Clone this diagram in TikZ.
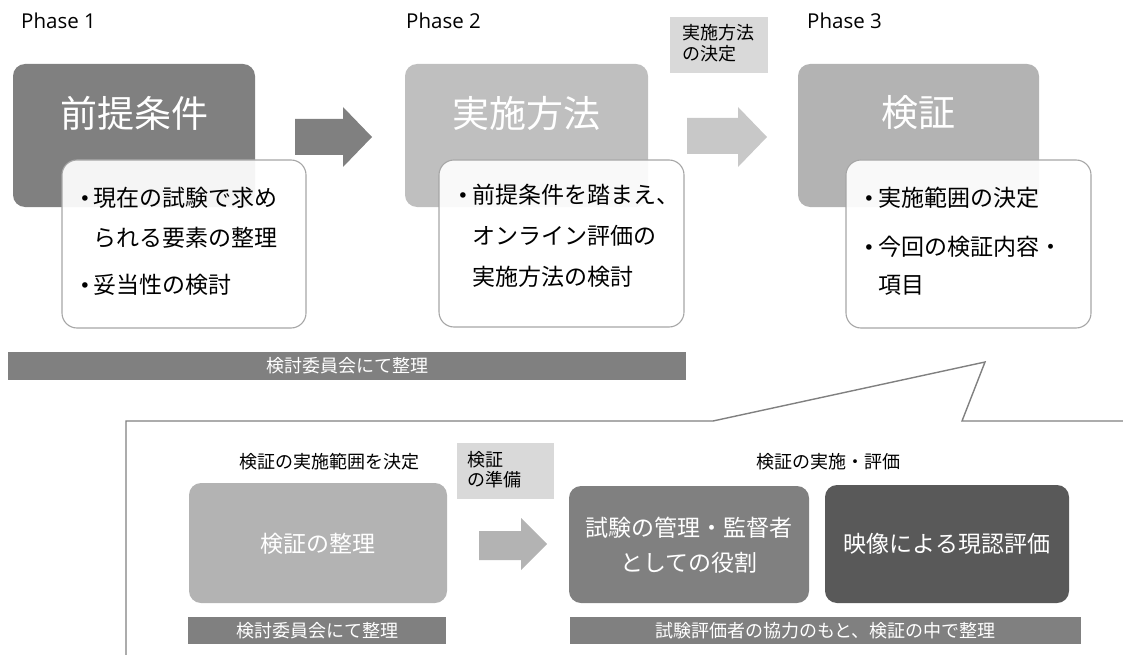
\documentclass[tikz,border=0pt]{standalone}
\usepackage{fontspec}
\setmainfont{Noto Sans CJK JP}
\newfontfamily\phasefont{Open Sans}
\newfontfamily\bulfont{DejaVu Sans}
\definecolor{gdark}{HTML}{808080}
\definecolor{gdarker}{HTML}{595959}
\definecolor{gmid}{HTML}{B3B3B3}
\definecolor{glight}{HTML}{BFBFBF}
\definecolor{garrow}{HTML}{C8C8C8}
\definecolor{glabel}{HTML}{D9D9D9}
\definecolor{gline}{HTML}{808080}
\definecolor{gborder}{HTML}{A6A6A6}
\begin{document}
\begin{tikzpicture}[x=1pt,y=-1pt,
  blk/.style={rounded corners=12pt, inner sep=0pt, outer sep=0pt, draw=none},
  wbox/.style={rounded corners=15pt, inner sep=0pt, outer sep=0pt, draw=gborder, line width=1.1pt, fill=white, fill opacity=0.92},
  sq/.style={inner sep=0pt, outer sep=0pt, draw=none},
  phase/.style={font=\phasefont\fontsize{20.5}{24}\selectfont, anchor=west, inner sep=0pt},
  ttl/.style={font=\fontsize{37}{44}\selectfont, text=white, inner sep=0pt},
  mid/.style={font=\fontsize{23}{35}\selectfont, text=white, inner sep=0pt, align=center},
  btx/.style={font=\fontsize{23}{28}\selectfont, anchor=west, inner sep=0pt},
  bul/.style={font=\bulfont\fontsize{19}{22}\selectfont, inner sep=0pt, yshift=-3pt},
  sml/.style={font=\fontsize{18}{20}\selectfont, inner sep=0pt},
  lab/.style={font=\fontsize{18}{20.5}\selectfont, inner sep=0pt, align=left, anchor=west},
  bartx/.style={font=\fontsize{18}{20}\selectfont, text=white, inner sep=0pt}
]
\useasboundingbox (0,0) rectangle (1123,655);

% ---------- Phase labels ----------
\node[phase] (ph1) at (21,21) {Phase 1};
\node[phase] (ph2) at (406,21) {Phase 2};
\node[phase] (ph3) at (807,21) {Phase 3};

% ---------- Phase 1 ----------
\node[blk, fill=gdark, minimum width=242pt, minimum height=143pt] (p1) at (134,135.5) {};
\node[ttl] (p1t) at (134,113) {前提条件};
\node[wbox, minimum width=244pt, minimum height=168pt] (w1) at (184,244) {};
\node[bul] (b1a) at (85,198) {•};
\node[btx] (t1a) at (93,198) {現在の試験で求め};
\node[btx] (t1b) at (93,238) {られる要素の整理};
\node[bul] (b1b) at (85,285) {•};
\node[btx] (t1c) at (93,285) {妥当性の検討};

% arrow 1
\fill[gdark] (295,119) -- (343,119) -- (343,107) -- (372,137) -- (343,167) -- (343,155) -- (295,155) -- cycle;

% ---------- Phase 2 ----------
\node[blk, fill=glight, minimum width=243pt, minimum height=143pt] (p2) at (526.5,135.5) {};
\node[ttl] (p2t) at (526.5,113) {実施方法};
\node[wbox, minimum width=245pt, minimum height=167pt] (w2) at (561.5,243.5) {};
\node[bul] (b2a) at (463,195) {•};
\node[btx] (t2a) at (472,195) {前提条件を踏まえ、};
\node[btx] (t2b) at (472,236) {オンライン評価の};
\node[btx] (t2c) at (472,277) {実施方法の検討};

\node[sq, fill=glabel, minimum width=98pt, minimum height=56pt] (l1) at (719,45) {};
\node[lab] (l1t) at (682,43) {実施方法\\の決定};

% arrow 2
\fill[garrow] (687,118) -- (738,118) -- (738,107) -- (767,137) -- (738,167) -- (738,154) -- (687,154) -- cycle;

% ---------- Phase 3 ----------
\node[blk, fill=gmid, minimum width=241pt, minimum height=143pt] (p3) at (918.5,135.5) {};
\node[ttl] (p3t) at (918.5,113) {検証};
\node[wbox, minimum width=245pt, minimum height=168pt] (w3) at (968.5,244) {};
\node[bul] (b3a) at (869,198) {•};
\node[btx] (t3a) at (878,198) {実施範囲の決定};
\node[bul] (b3b) at (869,247) {•};
\node[btx] (t3b) at (878,247) {今回の検証内容・};
\node[btx] (t3c) at (878,285) {項目};

% top bar
\node[sq, fill=gdark, minimum width=678pt, minimum height=28pt] (bar1) at (347,366) {};
\node[bartx] (bar1t) at (347,366) {検討委員会にて整理};

% ---------- callout ----------
\draw[gline, line width=1.4pt, line join=miter]
  (126,655) -- (126,421) -- (713,421) -- (985,362) -- (962,421) -- (1123,421);

% ---------- bottom ----------
\node[sml] (h1) at (329,462) {検証の実施範囲を決定};
\node[blk, fill=gmid, minimum width=258pt, minimum height=120pt] (q1) at (318,543) {};
\node[mid] (q1t) at (318,544) {検証の整理};
\node[sq, fill=gdark, minimum width=258pt, minimum height=27pt] (bar2) at (317,630.5) {};
\node[bartx] (bar2t) at (317,630.5) {検討委員会にて整理};

\node[sq, fill=glabel, minimum width=97pt, minimum height=56pt] (l2) at (505.5,471) {};
\node[lab] (l2t) at (467,469.5) {検証\\の準備};

% arrow 3
\fill[gmid] (479,531) -- (521,531) -- (521,518) -- (547,544) -- (521,570) -- (521,560) -- (479,560) -- cycle;

\node[sml] (h2) at (828,462) {検証の実施・評価};
\node[blk, fill=gdark, minimum width=240pt, minimum height=117pt] (q2) at (689,544.5) {};
\node[mid] (q2t) at (689,545) {試験の管理・監督者\\としての役割};
\node[blk, fill=gdarker, minimum width=244pt, minimum height=118pt] (q3) at (947,544) {};
\node[mid] (q3t) at (947,544) {映像による現認評価};
\node[sq, fill=gdark, minimum width=511pt, minimum height=27pt] (bar3) at (825.5,630.5) {};
\node[bartx] (bar3t) at (825.5,630.5) {試験評価者の協力のもと、検証の中で整理};
\end{tikzpicture}
\end{document}
